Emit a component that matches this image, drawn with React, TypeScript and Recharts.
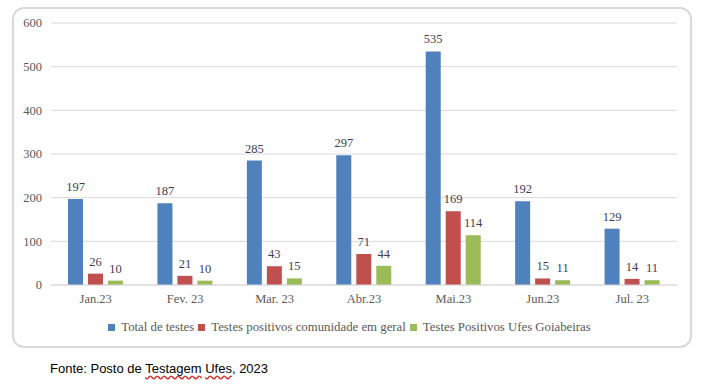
import { Bar, BarChart, CartesianGrid, LabelList, Legend, XAxis, YAxis } from "recharts";

const months = ["Jan.23", "Fev. 23", "Mar. 23", "Abr.23", "Mai.23", "Jun.23", "Jul. 23"];
const totalTestes = [197, 187, 285, 297, 535, 192, 129];
const positivosComunidade = [26, 21, 43, 71, 169, 15, 14];
const positivosUfes = [10, 10, 15, 44, 114, 11, 11];
const yTicks = [0, 100, 200, 300, 400, 500, 600];
const seriesNames = ["Total de testes", "Testes positivos comunidade em geral", "Testes Positivos Ufes Goiabeiras"];

const data = months.map((month, i) => ({
  month,
  total: totalTestes[i],
  comunidade: positivosComunidade[i],
  ufes: positivosUfes[i]
}));

const serif = "'Liberation Serif', serif";
const labelColor = "#403d55";

function LegendRow({ payload }: { payload?: { value: string; color: string }[] }) {
  const items = [...(payload ?? [])].sort(
    (a, b) => seriesNames.indexOf(a.value) - seriesNames.indexOf(b.value)
  );
  return (
    <div
      style={{
        height: 20,
        display: "flex",
        justifyContent: "center",
        alignItems: "center",
        fontFamily: serif,
        fontSize: 12.8,
        color: "#595959"
      }}
    >
      {items.map((item) => (
        <span key={item.value} style={{ display: "inline-flex", alignItems: "center", marginRight: 4 }}>
          <span style={{ width: 7, height: 7, background: item.color, marginRight: 6, display: "inline-block" }} />
          {item.value}
        </span>
      ))}
    </div>
  );
}

export default function App() {
  return (
    <div style={{ position: "absolute", left: 0, top: 0, width: 703, height: 385, background: "#fff" }}>
      <div
        style={{
          position: "absolute",
          left: 12,
          top: 7,
          width: 680,
          height: 341,
          boxSizing: "border-box",
          border: "2px solid #d9d9d9",
          borderRadius: 12
        }}
      />
      <div style={{ position: "absolute", left: 0, top: 0 }}>
        <BarChart
          width={703}
          height={340}
          data={data}
          margin={{ top: 23, right: 26, left: 0, bottom: 3 }}
          barSize={15}
          barGap={5}
        >
          <CartesianGrid stroke="#d9d9d9" vertical={false} />
          <XAxis
            dataKey="month"
            height={32}
            tickLine={false}
            tickSize={0}
            tickMargin={9}
            axisLine={{ stroke: "#d9d9d9" }}
            tick={{ fontFamily: serif, fontSize: 12.5, fill: "#595959" }}
          />
          <YAxis
            width={51}
            domain={[0, 600]}
            ticks={yTicks}
            axisLine={false}
            tickLine={false}
            tickSize={0}
            tickMargin={9}
            tick={{ fontFamily: serif, fontSize: 12.5, fill: "#595959" }}
          />
          <Legend
            verticalAlign="bottom"
            content={(props) => <LegendRow payload={props.payload as any} />}
            wrapperStyle={{ left: 0, width: 703 }}
          />
          <Bar dataKey="total" name={seriesNames[0]} fill="#4f81bd" isAnimationActive={false}>
            <LabelList dataKey="total" position="top" offset={8} fill={labelColor} fontFamily={serif} fontSize={12.5} />
          </Bar>
          <Bar dataKey="comunidade" name={seriesNames[1]} fill="#c0504d" isAnimationActive={false}>
            <LabelList dataKey="comunidade" position="top" offset={8} fill={labelColor} fontFamily={serif} fontSize={12.5} />
          </Bar>
          <Bar dataKey="ufes" name={seriesNames[2]} fill="#9bbb59" isAnimationActive={false}>
            <LabelList dataKey="ufes" position="top" offset={8} fill={labelColor} fontFamily={serif} fontSize={12.5} />
          </Bar>
        </BarChart>
      </div>
      <div
        style={{
          position: "absolute",
          left: 50,
          top: 361,
          fontFamily: "'Liberation Sans', sans-serif",
          fontSize: 13,
          color: "#000",
          whiteSpace: "nowrap"
        }}
      >
        Fonte: Posto de{" "}
        <span style={{ textDecoration: "underline wavy #e02020", textUnderlineOffset: 2 }}>Testagem</span>{" "}
        <span style={{ textDecoration: "underline wavy #e02020", textUnderlineOffset: 2 }}>Ufes</span>, 2023
      </div>
    </div>
  );
}
